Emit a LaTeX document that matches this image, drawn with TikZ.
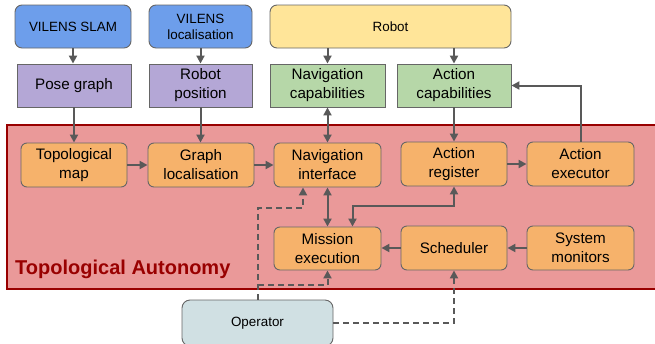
\documentclass[tikz,border=0pt]{standalone}
\usepackage{fontspec}
\setmainfont{Liberation Sans}
\usetikzlibrary{arrows.meta,calc}
\definecolor{cblue}{HTML}{6D9EEB}
\definecolor{cpurple}{HTML}{B4A7D6}
\definecolor{cgreen}{HTML}{B6D7A8}
\definecolor{cyellow}{HTML}{FFE599}
\definecolor{corange}{HTML}{F6B26B}
\definecolor{cred}{HTML}{EA9999}
\definecolor{cdred}{HTML}{990000}
\definecolor{cop}{HTML}{D0E0E3}
\definecolor{cline}{HTML}{595959}
\definecolor{cborder}{HTML}{666666}
\tikzset{
  box/.style={draw=cborder, line width=0.9pt, align=center, inner sep=0pt},
  topbox/.style={box, rounded corners=7pt, font=\fontsize{13.4}{16}\selectfont},
  midbox/.style={box, font=\fontsize{15.2}{19}\selectfont},
  orbox/.style={box, fill=corange, rounded corners=6pt, minimum width=106pt, minimum height=44pt, font=\fontsize{15.2}{19}\selectfont},
  conn/.style={draw=cline, line width=2pt, -{Triangle[length=8pt,width=8pt]}},
  biconn/.style={draw=cline, line width=2pt, {Triangle[length=8pt,width=8pt]}-{Triangle[length=8pt,width=8pt]}},
  dashconn/.style={conn, dash pattern=on 6pt off 4pt},
}
\begin{document}
\begin{tikzpicture}[x=1pt,y=-1pt]
\path[use as bounding box] (0,0) rectangle (655,343);
\clip (0,0) rectangle (655,343);
% container
\draw[fill=cred, draw=cdred, line width=2.2pt] (7,125) rectangle (660,289);
\node[anchor=base west, inner sep=0pt, text=cdred, font=\fontsize{20}{24}\selectfont\bfseries] (title) at (15,274.5) {Topological Autonomy};
% top row
\node[topbox, fill=cblue, minimum width=116pt, minimum height=43pt] (slam) at (73,26.5) {VILENS SLAM};
\node[topbox, fill=cblue, minimum width=103pt, minimum height=43pt] (vloc) at (200.5,26.5) {VILENS\\localisation};
\node[topbox, fill=cyellow, minimum width=241pt, minimum height=43pt] (robot) at (390.5,26.5) {Robot};
% second row
\node[midbox, fill=cpurple, minimum width=114pt, minimum height=43pt] (pose) at (74,85.5) {Pose graph};
\node[midbox, fill=cpurple, minimum width=103pt, minimum height=43pt] (rpos) at (200.5,85.5) {Robot\\position};
\node[midbox, fill=cgreen, minimum width=115pt, minimum height=43pt] (navcap) at (327.5,85.5) {Navigation\\capabilities};
\node[midbox, fill=cgreen, minimum width=114pt, minimum height=43pt] (actcap) at (454,85.5) {Action\\capabilities};
% orange
\node[orbox] (topo) at (74,165) {Topological\\map};
\node[orbox] (gloc) at (201,165) {Graph\\localisation};
\node[orbox, minimum width=107pt] (navint) at (327.5,165) {Navigation\\interface};
\node[orbox] (actreg) at (454,164) {Action\\register};
\node[orbox, minimum width=107pt] (actexe) at (580.5,164) {Action\\executor};
\node[orbox, minimum width=107pt, minimum height=43pt] (mission) at (327.5,248.5) {Mission\\execution};
\node[orbox] (sched) at (454,248) {Scheduler};
\node[orbox, minimum width=107pt] (sysmon) at (580.5,248) {System\\monitors};
% operator
\node[box, fill=cop, rounded corners=8pt, minimum width=151pt, minimum height=46pt, font=\fontsize{13.4}{16}\selectfont] (op) at (257.5,323) {\raisebox{2pt}{Operator}};
% arrows
\draw[conn] (slam.south) -- (slam.south |- pose.north);
\draw[conn] (vloc.south) -- (rpos.north);
\draw[conn] (navcap.north |- robot.south) -- (navcap.north);
\draw[conn] (actcap.north |- robot.south) -- (actcap.north);
\draw[conn] (pose.south) -- (pose.south |- topo.north);
\draw[conn] (rpos.south) -- (rpos.south |- gloc.north);
\draw[biconn] (navcap.south) -- (navint.north);
\draw[conn] (actcap.south) -- (actreg.north);
\draw[conn] (actexe.north) |- (actcap.east);
\draw[conn] (topo.east) -- (gloc.west);
\draw[conn] (gloc.east) -- (navint.west);
\draw[conn] (actreg.east) -- (actexe.west |- actreg.east);
\draw[biconn] (navint.south) -- (mission.north);
\coordinate (arj) at ($(actreg.south)+(0,20)$);
\draw[biconn] (actreg.south) -- (arj) -| ($(mission.north)+(25,0)$);
\draw[conn] (sched.west) -- (mission.east |- sched.west);
\draw[conn] (sysmon.west) -- (sched.east);
\coordinate (opv) at (258,208);
\coordinate (opm) at (258,285);
\draw[dashconn] (op.north -| opv) -- (opv) -| ($(navint.south)+(-24.5,0)$);
\draw[dashconn] (opm) -| (mission.south);
\draw[dashconn] (op.east) -| (sched.south);
\end{tikzpicture}
\end{document}
